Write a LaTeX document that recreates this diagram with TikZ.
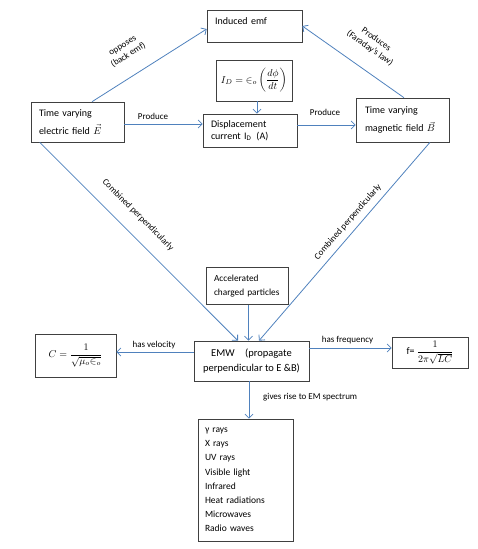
\documentclass[tikz,border=0pt]{standalone}
\usepackage{amsmath}
\usepackage{fontspec}
\setmainfont{Carlito}
\usetikzlibrary{arrows.meta,positioning}
\definecolor{flowblue}{RGB}{79,129,189}

\begin{document}
\begin{tikzpicture}[x=1pt, y=-1pt, >={Straight Barb[length=4pt,width=8pt]},
  box/.style={draw=black!75, line width=0.6pt, align=left, inner xsep=8pt, inner ysep=0pt, font=\fontsize{10}{12}\selectfont},
  flow/.style={->, draw=flowblue, line width=0.8pt},
  lbl/.style={inner sep=0pt, align=center, font=\fontsize{9}{11}\selectfont}]
\useasboundingbox (0,0) rectangle (477,549);
\node[box, text width=79pt, text height=10pt, text depth=14pt, inner ysep=4pt] (emf) at (254.5,26) {Induced emf};
\node[box, align=center, inner xsep=0pt, minimum width=76pt, minimum height=41pt] (idf) at (254,80.5) {$\displaystyle I_D={\in}_o\left(\frac{d\phi}{dt}\right)$};
\node[box, text width=78pt, minimum height=33pt] (disp) at (250,130.5) {Displacement\\current I\textsubscript{D}\,\ (A)};
\node[box, text width=77pt, minimum height=40pt, font=\fontsize{10}{18}\selectfont] (efield) at (77.5,122) {Time varying\\electric field $\vec{E}$};
\node[box, text width=75pt, inner xsep=9pt, minimum height=44pt, font=\fontsize{10}{18}\selectfont] (bfield) at (402.5,120) {Time varying\\magnetic field $\vec{B}$};
\node[box, text width=66pt, minimum height=37pt, font=\fontsize{9.3}{14}\selectfont] (accel) at (247,286) {Accelerated\\charged particles};
\node[box, align=center, inner xsep=0pt, minimum width=115pt, minimum height=40pt, font=\fontsize{10.5}{15}\selectfont] (emw) at (251.5,361) {EMW\quad(propagate\\perpendicular to E \&B)};
\node[box, align=center, inner xsep=0pt, minimum width=81pt, minimum height=43pt] (vel) at (75.5,355.5) {$C=\dfrac{1}{\sqrt{\mu_o{\in}_o}}$};
\node[box, align=center, inner xsep=0pt, minimum width=76pt, minimum height=31pt] (freq) at (430,352.5) {f= $\dfrac{1}{2\pi\sqrt{LC}}$};
\node[box, text width=81pt, inner xsep=7pt, minimum height=122pt, font=\fontsize{9.5}{14.2}\selectfont] (spec) at (245.5,480) {γ rays\\X rays\\UV rays\\Visible light\\Infrared\\Heat radiations\\Microwaves\\Radio waves};
\draw[flow] ([xshift=14.5pt]efield.north) -- ([yshift=-3pt]emf.west);
\draw[flow] ([xshift=1.5pt]bfield.north) -- (emf.east);
\draw[flow] ([yshift=-2pt]efield.east) -- ([yshift=-2pt]efield.east -| disp.west);
\draw[flow] ([xshift=3pt]idf.south) -- ([xshift=3pt]idf.south |- disp.north);
\draw[flow] ([yshift=5.5pt]disp.east) -- ([yshift=5.5pt]disp.east -| bfield.west);
\draw[flow] ([xshift=9pt]efield.south west) -- ([xshift=-13.5pt]emw.north);
\draw[flow] ([xshift=27.5pt]bfield.south) -- ([xshift=7.5pt]emw.north);
\draw[flow] ([xshift=1.5pt]accel.south) -- ([xshift=1.5pt]accel.south |- emw.north);
\draw[flow] ([yshift=9pt]emw.west) -- ([yshift=9pt]emw.west -| vel.east);
\draw[flow] ([yshift=13pt]emw.east) -- ([yshift=13pt]emw.east -| freq.west);
\draw[flow] ([xshift=-2.5pt]emw.south) -- ([xshift=-2.5pt]emw.south |- spec.north);
\node[lbl, rotate=32] (opp) at (126,51) {opposes\\(back emf)};
\node[lbl, rotate=-35] (far) at (373,44) {Produces\\(Faraday’s law)};
\node[lbl] (prod1) at (153,116) {Produce};
\node[lbl] (prod2) at (325,112) {Produce};
\node[lbl, rotate=-45] (comb1) at (138,215) {Combined perpendicularly};
\node[lbl, rotate=49] (comb2) at (348,222) {Combined perpendicularly};
\node[lbl] (hasvel) at (154,345) {has velocity};
\node[lbl] (hasfreq) at (347.5,340) {has frequency};
\node[lbl, anchor=west] (rise) at (263,397) {gives rise to EM spectrum};
\end{tikzpicture}
\end{document}
